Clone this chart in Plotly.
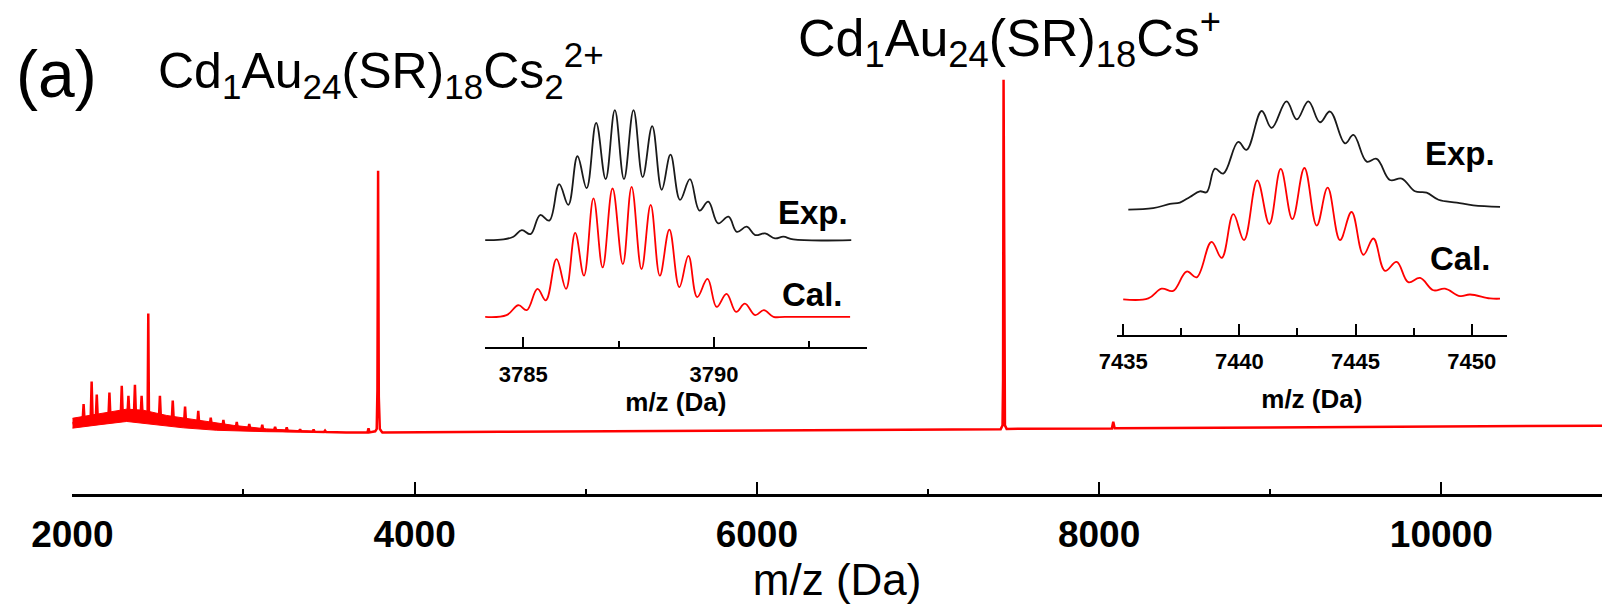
import plotly.graph_objects as go

# ---------------- data ----------------
# main spectrum: m/z and relative intensity (baseline ~0, Cs+ peak = 1)
main_mz = [2000,
           2060, 2066, 2072, 2107, 2113, 2119, 2137, 2143, 2149, 2211, 2217, 2223,
           2283, 2289, 2295, 2322, 2328, 2334, 2360, 2366, 2372, 2399, 2405, 2411,
           2440, 2444, 2448, 2506, 2512, 2518, 2581, 2587, 2593, 2653, 2659, 2665,
           2730, 2736, 2742, 2803, 2809, 2815, 2877, 2883, 2889, 2955, 2961, 2967,
           3028, 3034, 3040, 3104, 3110, 3116, 3179, 3185, 3191, 3247, 3253, 3259,
           3325, 3331, 3337, 3404, 3410, 3416, 3471, 3477, 3483, 3600,
           3725, 3731, 3737, 3770, 3779, 3783, 3787, 3791, 3797, 3805, 3812,
           4500, 5500, 6500, 7300, 7425, 7436, 7439, 7442, 7446, 7450, 7460,
           8000, 8075, 8083, 8091, 9000, 9830, 9840, 10940]
main_int = [0.026,
            0.030, 0.080, 0.031, 0.034, 0.144, 0.035, 0.036, 0.107, 0.037, 0.041, 0.113, 0.042,
            0.046, 0.132, 0.046, 0.048, 0.104, 0.048, 0.047, 0.135, 0.047, 0.045, 0.104, 0.045,
            0.042, 0.337, 0.042, 0.037, 0.104, 0.037, 0.032, 0.090, 0.032, 0.027, 0.073, 0.027,
            0.023, 0.061, 0.023, 0.019, 0.042, 0.019, 0.016, 0.035, 0.016, 0.012, 0.030, 0.012,
            0.010, 0.024, 0.010, 0.007, 0.022, 0.007, 0.006, 0.016, 0.006, 0.004, 0.014, 0.004,
            0.003, 0.009, 0.003, 0.002, 0.008, 0.002, 0.001, 0.005, 0.001, 0.000,
            0.000, 0.012, 0.000, 0.003, 0.010, 0.120, 0.742, 0.100, 0.010, 0.004, 0.000,
            0.002, 0.004, 0.006, 0.008, 0.009, 0.020, 0.150, 1.000, 0.130, 0.020, 0.010,
            0.010, 0.011, 0.030, 0.012, 0.014, 0.016, 0.018, 0.019]

# noisy hump envelope (upper / lower edge)
band_up_mz = [2000, 2162, 2318, 2415, 2552, 2746, 2941, 3136, 3331, 3525]
band_up_int = [0.040, 0.054, 0.066, 0.063, 0.048, 0.034, 0.020, 0.010, 0.005, 0.001]
band_lo_mz = [2000, 2162, 2318, 2454, 2649, 2844, 3136, 3525]
band_lo_int = [0.012, 0.022, 0.031, 0.023, 0.013, 0.006, 0.002, 0.000]

main_ticks = [2000, 4000, 6000, 8000, 10000]
main_ticktext = ["2000", "4000", "6000", "8000", "10000"]
main_minor = [3000, 5000, 7000, 9000]

# inset 1: Cd1Au24(SR)18Cs2 2+
in1_exp_mz = [3783.95, 3784.48, 3784.74, 3784.96, 3785.19, 3785.44, 3785.68, 3785.94, 3786.18,
              3786.42, 3786.66, 3786.91, 3787.16, 3787.40, 3787.64, 3787.89, 3788.13, 3788.38,
              3788.63, 3788.86, 3789.11, 3789.37, 3789.62, 3789.85, 3790.11, 3790.38, 3790.60,
              3790.86, 3791.08, 3791.34, 3791.60, 3791.82, 3792.08, 3793.60]
in1_exp_int = [0.000, 0.005, 0.026, 0.077, 0.046, 0.193, 0.150, 0.431, 0.271,
               0.645, 0.400, 0.902, 0.469, 1.000, 0.469, 1.000, 0.485, 0.877,
               0.387, 0.657, 0.309, 0.469, 0.227, 0.296, 0.129, 0.180, 0.064,
               0.103, 0.039, 0.052, 0.013, 0.026, 0.005, 0.000]
in1_cal_mz = [3783.95, 3784.56, 3784.87, 3785.09, 3785.37, 3785.59, 3785.87, 3786.12, 3786.36,
              3786.59, 3786.84, 3787.08, 3787.34, 3787.61, 3787.84, 3788.10, 3788.34, 3788.58,
              3788.83, 3789.09, 3789.33, 3789.56, 3789.83, 3790.07, 3790.33, 3790.58, 3790.81,
              3791.08, 3791.31, 3791.56, 3791.86, 3793.57]
in1_cal_int = [0.000, 0.013, 0.089, 0.051, 0.215, 0.127, 0.443, 0.215, 0.645,
               0.316, 0.911, 0.380, 0.987, 0.405, 1.000, 0.367, 0.861, 0.316,
               0.671, 0.228, 0.468, 0.152, 0.291, 0.076, 0.177, 0.038, 0.101,
               0.013, 0.051, 0.000, 0.000, 0.000]
in1_ticks = [3785, 3790]
in1_minor = [3787.5, 3792.5]

# inset 2: Cd1Au24(SR)18Cs+
in2_exp_mz = [7435.22, 7436.29, 7437.01, 7437.44, 7437.87, 7438.30, 7438.59, 7438.95, 7439.31,
              7439.95, 7440.31, 7440.96, 7441.39, 7442.03, 7442.47, 7442.97, 7443.47, 7443.90,
              7444.55, 7444.91, 7445.48, 7445.91, 7446.48, 7446.99, 7447.56, 7448.06, 7448.57,
              7449.36, 7450.07, 7451.22]
in2_exp_int = [0.000, 0.013, 0.052, 0.065, 0.117, 0.169, 0.161, 0.378, 0.333,
               0.625, 0.552, 0.911, 0.755, 1.000, 0.833, 1.000, 0.807, 0.906,
               0.612, 0.690, 0.443, 0.469, 0.273, 0.286, 0.169, 0.156, 0.091,
               0.065, 0.039, 0.026]
in2_cal_mz = [7435.00, 7436.08, 7436.65, 7437.15, 7437.73, 7438.16, 7438.80, 7439.24, 7439.74,
              7440.20, 7440.77, 7441.29, 7441.78, 7442.28, 7442.80, 7443.33, 7443.80, 7444.33,
              7444.83, 7445.34, 7445.77, 7446.27, 7446.77, 7447.27, 7447.78, 7448.35, 7448.85,
              7449.50, 7449.93, 7450.79, 7451.22]
in2_cal_int = [0.000, 0.007, 0.081, 0.064, 0.211, 0.167, 0.436, 0.314, 0.645,
               0.449, 0.902, 0.571, 0.988, 0.608, 0.995, 0.559, 0.846, 0.449,
               0.662, 0.338, 0.461, 0.216, 0.284, 0.130, 0.162, 0.069, 0.081,
               0.025, 0.037, 0.007, 0.005]
in2_ticks = [7435, 7440, 7445, 7450]
in2_minor = [7437.5, 7442.5, 7447.5]

# ---------------- styling / layout ----------------
W, H = 1602, 605
FONT = "Liberation Sans, Arial, sans-serif"
RED = "#ff0000"
BLACK = "#1a1a1a"

def fx(px):
    return px / W

def fy(py):
    return 1 - py / H

# vertical stacking offsets / display scales of the inset spectra (inset units)
IN1_EXP_OFF, IN1_CAL_OFF = 0.82, 0.23
IN2_EXP_OFF, IN2_CAL_OFF = 0.95, 0.27
IN2_EXP_SCALE = 0.82

fig = go.Figure()

fig.add_trace(go.Scatter(
    x=band_up_mz + band_lo_mz[::-1],
    y=band_up_int + band_lo_int[::-1],
    fill="toself", fillcolor=RED, mode="lines",
    line=dict(color=RED, width=1), xaxis="x", yaxis="y",
    hoverinfo="skip", showlegend=False))
fig.add_trace(go.Scatter(
    x=main_mz, y=main_int, mode="lines",
    line=dict(color=RED, width=2.5), xaxis="x", yaxis="y", showlegend=False))

fig.add_trace(go.Scatter(
    x=in1_exp_mz, y=[v + IN1_EXP_OFF for v in in1_exp_int], mode="lines",
    line=dict(color=BLACK, width=1.8, shape="spline", smoothing=1.1),
    xaxis="x2", yaxis="y2", showlegend=False))
fig.add_trace(go.Scatter(
    x=in1_cal_mz, y=[v + IN1_CAL_OFF for v in in1_cal_int], mode="lines",
    line=dict(color=RED, width=1.8, shape="spline", smoothing=1.1),
    xaxis="x2", yaxis="y2", showlegend=False))

fig.add_trace(go.Scatter(
    x=in2_exp_mz, y=[v * IN2_EXP_SCALE + IN2_EXP_OFF for v in in2_exp_int], mode="lines",
    line=dict(color=BLACK, width=1.8, shape="spline", smoothing=1.1),
    xaxis="x3", yaxis="y3", showlegend=False))
fig.add_trace(go.Scatter(
    x=in2_cal_mz, y=[v + IN2_CAL_OFF for v in in2_cal_int], mode="lines",
    line=dict(color=RED, width=1.8, shape="spline", smoothing=1.1),
    xaxis="x3", yaxis="y3", showlegend=False))

common_x = dict(showline=True, linecolor="black", ticks="inside", tickcolor="black",
                showgrid=False, zeroline=False, tickmode="array", fixedrange=True,
                automargin=False)

fig.update_layout(
    width=W, height=H,
    margin=dict(l=0, r=0, t=0, b=0, pad=0, autoexpand=False),
    paper_bgcolor="white", plot_bgcolor="rgba(0,0,0,0)",
    font=dict(family=FONT, color="black"),
    xaxis=dict(common_x, domain=[fx(72.3), 1.0], range=[2000, 10939], anchor="y",
               linewidth=2.5, ticklen=12, tickwidth=2, tickvals=main_ticks,
               ticktext=main_ticktext,
               tickfont=dict(size=37, weight="bold", family=FONT),
               ticklabelstandoff=6,
               minor=dict(tickvals=main_minor, ticklen=5, tickwidth=2,
                          tickcolor="black", ticks="inside"),
               title=dict(text="m/z (Da)", font=dict(size=44, family=FONT), standoff=2)),
    yaxis=dict(domain=[fy(494), fy(58)], range=[-0.1746, 1.0614], visible=False,
               fixedrange=True, automargin=False),
    xaxis2=dict(common_x, domain=[fx(485.2), fx(866.5)], range=[3784, 3794], anchor="y2",
                linewidth=2, ticklen=10, tickwidth=2, tickvals=in1_ticks,
                ticktext=[str(t) for t in in1_ticks],
                tickfont=dict(size=22, weight="bold", family=FONT),
                ticklabelstandoff=7,
                minor=dict(tickvals=in1_minor, ticklen=6, tickwidth=2,
                           tickcolor="black", ticks="inside"),
                title=dict(text="m/z (Da)", font=dict(size=26, weight="bold", family=FONT),
                           standoff=7)),
    yaxis2=dict(domain=[fy(346.7), fy(86.7)], range=[0, 2.0], visible=False,
                fixedrange=True, automargin=False),
    xaxis3=dict(common_x, domain=[fx(1116.7), fx(1507)], range=[7434.72, 7451.52],
                anchor="y3", linewidth=2, ticklen=11, tickwidth=2, tickvals=in2_ticks,
                ticktext=[str(t) for t in in2_ticks],
                tickfont=dict(size=22, weight="bold", family=FONT),
                ticklabelstandoff=6,
                minor=dict(tickvals=in2_minor, ticklen=7, tickwidth=2,
                           tickcolor="black", ticks="inside"),
                title=dict(text="m/z (Da)", font=dict(size=26, weight="bold", family=FONT),
                           standoff=16)),
    yaxis3=dict(domain=[fy(335), fy(71)], range=[0, 2.0], visible=False,
                fixedrange=True, automargin=False),
)

annotations = [
    dict(text="(a)", x=fx(14), y=fy(74), xanchor="left", yanchor="middle",
         font=dict(size=66, family=FONT)),
    dict(text="Cd<sub>1</sub>Au<sub>24</sub>(SR)<sub>18</sub>Cs<sub>2</sub><sup>2+</sup>",
         x=fx(156), y=fy(70), xanchor="left", yanchor="middle",
         font=dict(size=50, family=FONT)),
    dict(text="Cd<sub>1</sub>Au<sub>24</sub>(SR)<sub>18</sub>Cs<sup>+</sup>",
         x=fx(796), y=fy(38), xanchor="left", yanchor="middle",
         font=dict(size=52, family=FONT)),
    dict(text="<b>Exp.</b>", x=fx(813), y=fy(212), xanchor="center", yanchor="middle",
         font=dict(size=33, family=FONT)),
    dict(text="<b>Cal.</b>", x=fx(812), y=fy(295), xanchor="center", yanchor="middle",
         font=dict(size=33, family=FONT)),
    dict(text="<b>Exp.</b>", x=fx(1460), y=fy(154), xanchor="center", yanchor="middle",
         font=dict(size=33, family=FONT)),
    dict(text="<b>Cal.</b>", x=fx(1460), y=fy(259), xanchor="center", yanchor="middle",
         font=dict(size=33, family=FONT)),
]
for a in annotations:
    a.update(xref="paper", yref="paper", showarrow=False)
fig.update_layout(annotations=annotations)

fig.write_html("out.html", config={"displayModeBar": False},
               post_script="document.body.style.margin='0';document.body.style.overflow='hidden';")
